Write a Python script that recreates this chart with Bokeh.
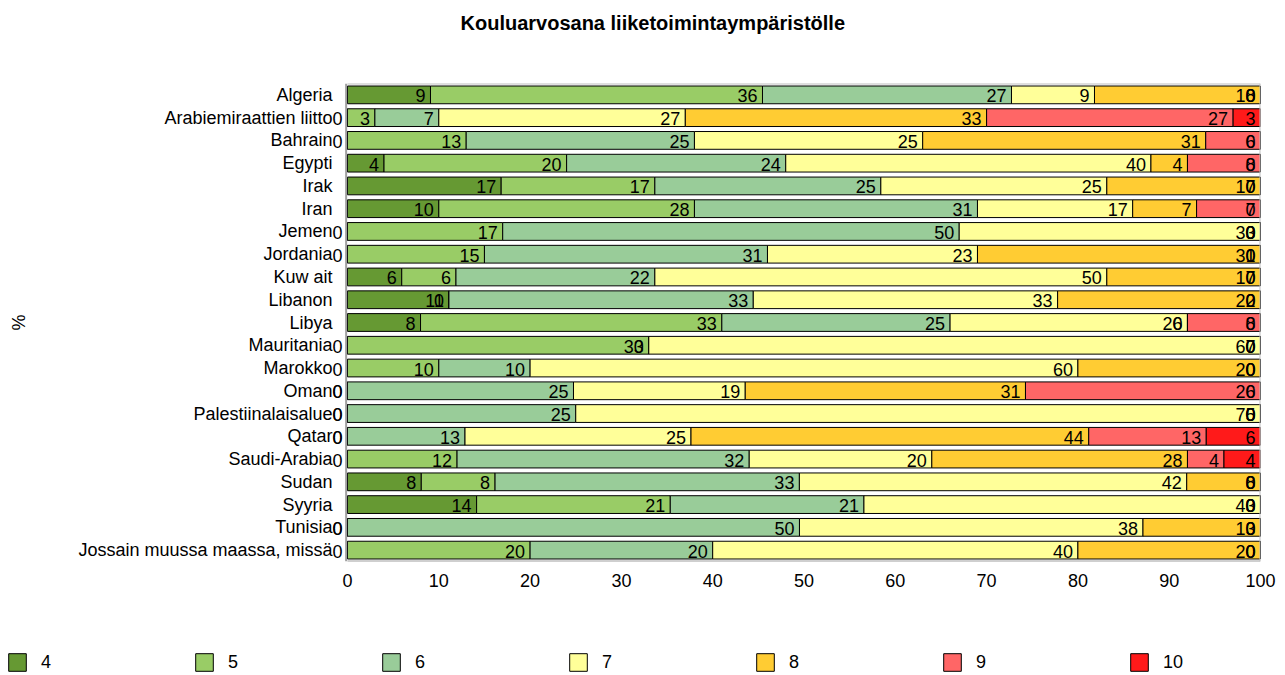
from bokeh.plotting import figure
from bokeh.models import (FactorRange, ColumnDataSource, Legend, LegendItem,
                          Range1d, FixedTicker, Span, Title)
from bokeh.embed import file_html
from bokeh.resources import INLINE
from bokeh.core.properties import value

title_text = "Kouluarvosana liiketoimintaympäristölle"
y_label = "%"

categories = ["Algeria", "Arabiemiraattien liitto", "Bahrain", "Egypti", "Irak",
              "Iran", "Jemen", "Jordania", "Kuw ait", "Libanon", "Libya",
              "Mauritania", "Marokko", "Oman", "Palestiinalaisalue", "Qatar",
              "Saudi-Arabia", "Sudan", "Syyria", "Tunisia",
              "Jossain muussa maassa, missä"]

grade_names = ["4", "5", "6", "7", "8", "9", "10"]

g4  = [9, 0, 0, 4, 17, 10, 0, 0, 6, 11, 8, 0, 0, 0, 0, 0, 0, 8, 14, 0, 0]
g5  = [36, 3, 13, 20, 17, 28, 17, 15, 6, 0, 33, 33, 10, 0, 0, 0, 12, 8, 21, 0, 20]
g6  = [27, 7, 25, 24, 25, 31, 50, 31, 22, 33, 25, 0, 10, 25, 25, 13, 32, 33, 21, 50, 20]
g7  = [9, 27, 25, 40, 25, 17, 33, 23, 50, 33, 26, 67, 60, 19, 75, 25, 20, 42, 43, 38, 40]
g8  = [18, 33, 31, 4, 17, 7, 0, 31, 17, 22, 0, 0, 20, 31, 0, 44, 28, 8, 0, 13, 20]
g9  = [0, 27, 6, 8, 0, 7, 0, 0, 0, 0, 8, 0, 0, 26, 0, 13, 4, 0, 0, 0, 0]
g10 = [0, 3, 0, 0, 0, 0, 0, 0, 0, 0, 0, 0, 0, 0, 0, 6, 4, 0, 0, 0, 0]

series = [g4, g5, g6, g7, g8, g9, g10]
colors = ["#669933", "#99CC66", "#99CC99", "#FFFF99", "#FFCC33", "#FF6666", "#FF1A1A"]

x_ticks = [0, 10, 20, 30, 40, 50, 60, 70, 80, 90, 100]

FONT = "Liberation Sans"
W = 1285
H_MAIN, H_LEG = 645, 30

# normalised (100 % stacked) data
totals = [sum(vals) for vals in zip(*series)]
data = {"cat": categories}
keys = []
for name, vals in zip(grade_names, series):
    k = "g" + name
    keys.append(k)
    data[k] = [v / t * 100.0 for v, t in zip(vals, totals)]
src = ColumnDataSource(data)

# value labels at the end of each segment
lx, ly, lt = [], [], []
cum = [0.0] * len(categories)
for name, vals in zip(grade_names, series):
    for i, v in enumerate(vals):
        cum[i] += v / totals[i] * 100.0
        lx.append(cum[i])
        ly.append(categories[i])
        lt.append(str(v))
lsrc = ColumnDataSource(dict(x=lx, y=ly, t=lt))

# ---------------- main chart ----------------
x_pad = 2.30  # room left of 0 for the zero labels
p = figure(width=W, height=H_MAIN, output_backend="svg", toolbar_location=None,
           y_range=FactorRange(factors=list(reversed(categories))),
           x_range=Range1d(-x_pad, 100),
           min_border_left=326, min_border_right=25,
           min_border_top=83, min_border_bottom=H_MAIN - 561)
p.outline_line_color = None
p.xgrid.visible = False
p.ygrid.visible = False

p.title.text = title_text
p.title.align = "left"
p.title.offset = 134
p.title.text_font = FONT
p.title.text_font_size = "20px"
p.title.text_font_style = "bold"
p.title.text_color = "black"
p.add_layout(Title(text=" ", text_font_size="39px", standoff=0), "above")

p.hbar_stack(keys, y="cat", height=0.78, source=src,
             fill_color=colors, line_color="black", line_width=1)

p.text(x="x", y="y", text="t", source=lsrc, text_align="right",
       text_baseline="middle", x_offset=-5, y_offset=1,
       text_font=value(FONT), text_font_size="18px", text_color="black")

# plot-area frame lines
n = len(categories)
p.segment(x0=[0], x1=[100], y0=[n], y1=[n], line_color="#C0C0C0", line_width=2)
p.segment(x0=[0], x1=[100], y0=[0], y1=[0], line_color="#A0A0A0", line_width=2)
p.add_layout(Span(location=-0.15, dimension="height", line_color="#A0A0A0", line_width=2))
p.add_layout(Span(location=100, dimension="height", line_color="#C0C0C0", line_width=2))

p.xaxis.ticker = FixedTicker(ticks=x_ticks)
p.xaxis.major_tick_line_color = None
p.xaxis.minor_tick_line_color = None
p.xaxis.axis_line_color = None
p.xaxis.major_label_text_font = FONT
p.xaxis.major_label_text_font_size = "18px"
p.xaxis.major_label_text_color = "black"
p.xaxis.major_label_standoff = 6

p.yaxis.major_tick_line_color = None
p.yaxis.minor_tick_line_color = None
p.yaxis.axis_line_color = None
p.yaxis.major_label_text_font = FONT
p.yaxis.major_label_text_font_size = "18px"
p.yaxis.major_label_text_color = "black"
p.yaxis.major_label_standoff = -12
p.yaxis.axis_label = y_label
p.yaxis.axis_label_text_font = FONT
p.yaxis.axis_label_text_font_size = "18px"
p.yaxis.axis_label_text_font_style = "normal"
p.yaxis.axis_label_text_color = "black"
p.yaxis.axis_label_standoff = 46

# ---------------- legend strip (hidden proxies of the same stacks) ----------------
lf = figure(width=W, height=H_LEG, output_backend="svg", toolbar_location=None,
            y_range=FactorRange(factors=list(reversed(categories))),
            x_range=Range1d(200, 300),
            x_axis_type=None, y_axis_type=None, min_border=0)
lf.outline_line_color = None
lf.xgrid.visible = False
lf.ygrid.visible = False
proxies = lf.hbar_stack(keys, y="cat", height=0.78, source=src,
                        fill_color=colors, line_color="black", line_width=1)
for r in proxies:
    r.visible = False
items = [LegendItem(label=nm, renderers=[r]) for nm, r in zip(grade_names, proxies)]
legend = Legend(items=items, orientation="horizontal", location=(6, 2),
                glyph_width=22, glyph_height=22, label_standoff=13,
                label_width=152, spacing=0, padding=0, margin=0,
                border_line_alpha=0, background_fill_alpha=0,
                inactive_fill_alpha=0,
                label_text_font=FONT, label_text_font_size="18px",
                label_text_color="black")
lf.add_layout(legend, "center")

open("out.html", "w").write(file_html([p, lf], INLINE))
